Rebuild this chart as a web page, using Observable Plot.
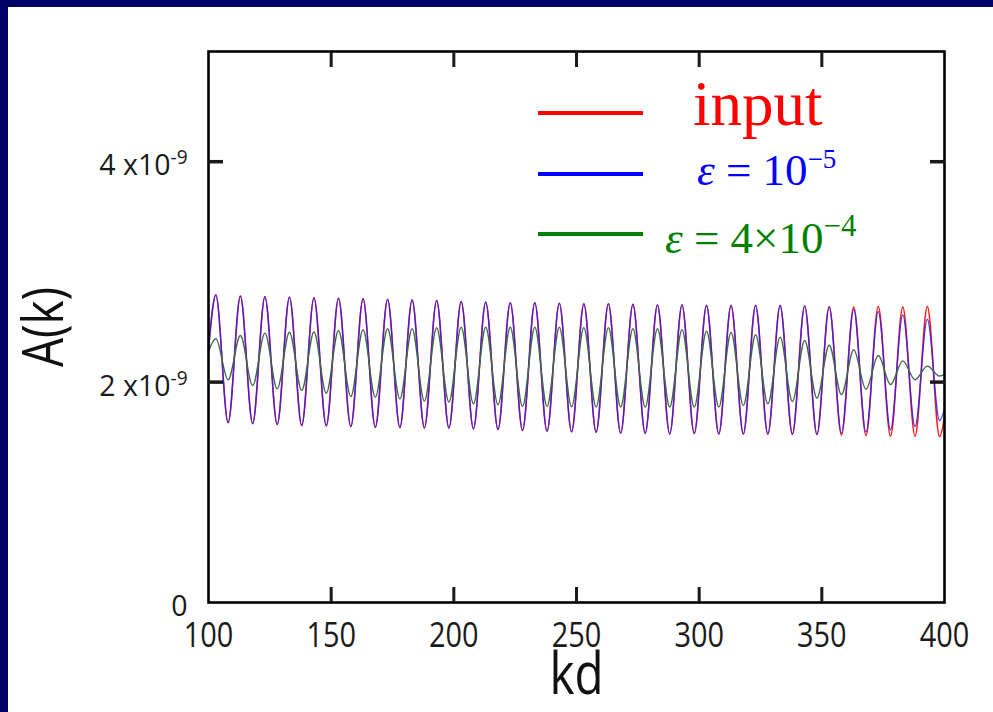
<!DOCTYPE html>
<html>
<head>
<meta charset="utf-8">
<script src="https://cdn.jsdelivr.net/npm/d3@7"></script>
<script src="https://cdn.jsdelivr.net/npm/@observablehq/plot@0.6"></script>
<style>
  html, body { margin: 0; padding: 0; background: #fff; }
  #wrap { position: relative; width: 993px; height: 712px; overflow: hidden; background: #fff; }
  #chart { position: absolute; left: 0; top: 0; }
  #navTop { position: absolute; left: 0; top: 0; width: 993px; height: 7px; background: #000066; z-index: 3; }
  #navLeft { position: absolute; left: 0; top: 0; width: 8px; height: 712px; background: #000066; z-index: 3; }
  #legend { position: absolute; left: 0; top: 0; z-index: 2; pointer-events: none; }
</style>
</head>
<body>
<div id="wrap">
  <div id="chart"></div>
  <svg id="legend" width="993" height="300" xmlns="http://www.w3.org/2000/svg"></svg>
  <div id="navTop"></div>
  <div id="navLeft"></div>
</div>
<script>
// ---- data (A(k) in units of 1e-9) ----
const kd = [100,103,108,113,118,123,128,133,138,143,148,153,158,163,168,173,178,183,188,193,198,
  203,208,213,218,223,228,233,238,243,248,253,258,263,268,273,278,283,288,293,298,
  303,308,313,318,323,328,333,338,343,348,353,358,363,368,373,378,383,388,393,398,400];

const inputVals = [2.30,
  2.79,1.632, 2.78,1.623, 2.775,1.615, 2.77,1.606, 2.765,1.604, 2.76,1.597, 2.755,1.590, 2.75,1.588, 2.745,1.585, 2.74,1.583,
  2.73,1.576, 2.725,1.570, 2.72,1.561, 2.72,1.555, 2.715,1.549, 2.71,1.545, 2.71,1.538, 2.705,1.536, 2.70,1.530, 2.70,1.533,
  2.695,1.530, 2.695,1.530, 2.695,1.528, 2.695,1.527, 2.69,1.525, 2.685,1.520, 2.68,1.515, 2.685,1.510, 2.68,1.510, 2.685,1.505,
  1.68];

const eps1e5Vals = [2.30,
  2.79,1.632, 2.78,1.623, 2.775,1.615, 2.77,1.606, 2.765,1.604, 2.76,1.597, 2.755,1.590, 2.75,1.588, 2.745,1.585, 2.74,1.583,
  2.73,1.576, 2.725,1.570, 2.72,1.561, 2.72,1.555, 2.715,1.549, 2.71,1.545, 2.71,1.538, 2.705,1.536, 2.70,1.530, 2.70,1.533,
  2.695,1.530, 2.695,1.530, 2.695,1.528, 2.695,1.527, 2.69,1.525, 2.68,1.537, 2.66,1.546, 2.64,1.567, 2.61,1.597, 2.57,1.650,
  1.76];

const eps4e4Vals = [2.28,
  2.393,2.021, 2.423,1.969, 2.444,1.939, 2.453,1.924, 2.455,1.899, 2.468,1.869, 2.475,1.863, 2.484,1.848, 2.484,1.827, 2.493,1.818,
  2.498,1.803, 2.498,1.794, 2.498,1.779, 2.498,1.779, 2.498,1.776, 2.493,1.773, 2.493,1.773, 2.484,1.773, 2.484,1.773, 2.475,1.773,
  2.462,1.773, 2.450,1.788, 2.429,1.803, 2.408,1.824, 2.378,1.854, 2.335,1.886, 2.293,1.935, 2.241,1.978, 2.193,2.021, 2.145,2.055,
  2.07];

const xTicks = [100,150,200,250,300,350,400];
const xInnerTicks = [150,200,250,300,350];
const yTicks = [0,2,4];
const yTickLabels = ["0","2 x10^-9","4 x10^-9"];
const yInnerTicks = [2,4];

const seriesNames = ["input","ε = 10^−5","ε = 4×10^−4"];
const seriesColors = ["#ff0000","#0000ff","#008000"];

const toRows = vals => kd.map((k, i) => ({kd: k, A: vals[i]}));

const chart = Plot.plot({
  width: 993,
  height: 712,
  marginLeft: 208,
  marginRight: 49,
  marginTop: 51,
  marginBottom: 110,
  style: {fontFamily: "'Open Sans', 'Noto Sans', sans-serif", background: "transparent", color: "#1a1a1a"},
  x: {domain: [100, 400], label: null},
  y: {domain: [0, 5], label: null},
  marks: [
    Plot.line(toRows(inputVals), {x: "kd", y: "A", stroke: "#ff1a1a", strokeWidth: 1.6, curve: "monotone-x"}),
    Plot.line(toRows(eps1e5Vals), {x: "kd", y: "A", stroke: "#2020ff", strokeWidth: 1.3, strokeOpacity: 0.85, curve: "monotone-x"}),
    Plot.line(toRows(eps4e4Vals), {x: "kd", y: "A", stroke: "#3b6a47", strokeWidth: 1.4, curve: "monotone-x"}),
    Plot.frame({stroke: "#000", strokeWidth: 2.6}),
    Plot.axisX({anchor: "bottom", ticks: xTicks, tickSize: 0, tickPadding: 20, label: null, tickFormat: d => String(d)}),
    Plot.axisX({anchor: "bottom", ticks: xInnerTicks, tickSize: 15, dy: -15, strokeWidth: 3, label: null, tickFormat: () => ""}),
    Plot.axisX({anchor: "top", ticks: xInnerTicks, tickSize: 15, dy: 15, strokeWidth: 3, label: null, tickFormat: () => ""}),
    Plot.axisY({anchor: "left", ticks: yTicks, tickSize: 0, tickPadding: 21, dy: 4, label: null,
      tickFormat: d => yTickLabels[yTicks.indexOf(d)]}),
    Plot.axisY({anchor: "left", ticks: yInnerTicks, tickSize: 15, dx: 15, strokeWidth: 3.5, label: null, tickFormat: () => ""}),
    Plot.axisY({anchor: "right", ticks: yInnerTicks, tickSize: 15, dx: -15, strokeWidth: 3.5, label: null, tickFormat: () => ""}),
    Plot.text(["A(k)"], {frameAnchor: "left", dx: -163, rotate: -90, textAnchor: "middle", fontSize: 56, fill: "#111"}),
    Plot.text(["kd"], {frameAnchor: "bottom", lineAnchor: "bottom", dy: 91, fontSize: 58, fill: "#111"})
  ]
});
document.getElementById("chart").appendChild(chart);

// condensed look: scale text horizontally around its anchor
function condense(sel, sx) {
  sel.each(function() {
    const tr = this.getAttribute("transform");
    if (tr) this.setAttribute("transform", tr + ` scale(${sx},1)`);
  });
}

const xLab = d3.select(chart).selectAll('g[aria-label="x-axis tick label"] text');
xLab.style("font-size", "34px", "important");
condense(xLab, 0.85);

const yLab = d3.select(chart).selectAll('g[aria-label="y-axis tick label"] text');
yLab.style("font-size", "30px", "important");
// superscripts in y tick labels
yLab.each(function() {
  const t = this.textContent;
  const parts = t.split("^");
  if (parts.length === 2) {
    const s = d3.select(this);
    s.text(parts[0]);
    s.append("tspan").attr("dy", "-0.55em").style("font-size", "20px").text(parts[1]);
  }
});
condense(yLab, 0.95);
condense(d3.select(chart).selectAll('g[aria-label="text"] text'), 0.82);

// legend (inside plot area, top right)
const leg = d3.select("#legend");
const legendY = [113, 174, 234];
const serif = "'Liberation Serif', 'Times New Roman', 'DejaVu Serif', serif";
seriesColors.forEach((c, i) => {
  leg.append("line").attr("x1", 538).attr("x2", 643).attr("y1", legendY[i]).attr("y2", legendY[i])
    .attr("stroke", c).attr("stroke-width", 4);
});
leg.append("text").attr("x", 693).attr("y", 125).attr("font-family", serif).attr("font-size", 63)
  .attr("fill", seriesColors[0]).text(seriesNames[0]);

function epsLabel(x, y, color, name, supSize) {
  const [base, sup] = name.split("^");
  const t = leg.append("text").attr("x", x).attr("y", y).attr("font-family", serif).attr("font-size", 45).attr("fill", color);
  t.append("tspan").attr("font-style", "italic").text(base.slice(0, 1));
  t.append("tspan").text(base.slice(1));
  t.append("tspan").attr("dy", -17).attr("font-size", supSize).text(sup);
}
epsLabel(697, 185, seriesColors[1], seriesNames[1], 27);
epsLabel(665, 253, seriesColors[2], seriesNames[2], 31);
</script>
</body>
</html>
